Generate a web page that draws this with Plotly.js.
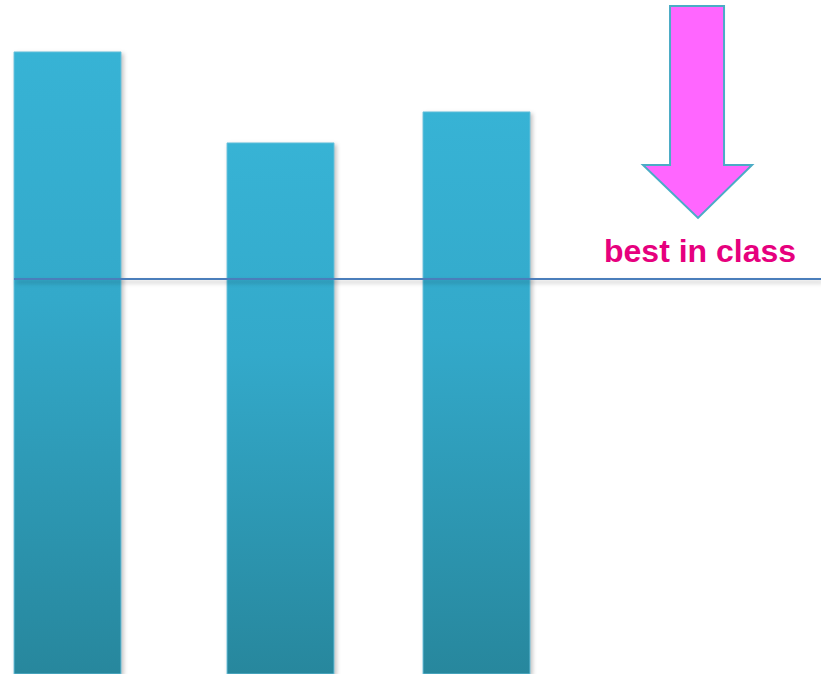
<!DOCTYPE html>
<html>
<head>
<meta charset="utf-8">
<script src="https://cdn.plot.ly/plotly-3.0.1.min.js"></script>
<style>html,body{margin:0;padding:0;background:#fff;}#chart{width:821px;height:674px;}</style>
</head>
<body>
<div id="chart"></div>
<script>
// Data
const categories = [0, 1, 2];
const values = [92.3, 78.8, 83.4];
const benchmark = 58.6;
const benchmarkLabel = "best in class";

// Layout helpers (pixel geometry of the reference)
const W = 821, H = 674;
const unit = 204.5;                  // px per category
const barWidth = 107 / unit;
const barOffsets = [-56 / unit, -47.5 / unit, -56 / unit];
const xr0 = -70 / unit;
const px = (x) => x / W;
const py = (y) => 1 - y / H;

const arrowPts = [[670,6],[724,6],[724,165],[752,165],[698,218],[643,165],[670,165]];
const arrowPath = 'M' + arrowPts.map(p => px(p[0]).toFixed(4) + ',' + py(p[1]).toFixed(4)).join(' L') + ' Z';

const trace = {
  type: 'bar',
  x: categories,
  y: values,
  width: barWidth,
  offset: barOffsets,
  marker: { color: '#31A3C1', line: { color: 'rgba(110,195,222,0.9)', width: 1 } },
  hoverinfo: 'skip'
};

const layout = {
  width: W, height: H,
  margin: { l: 0, r: 0, t: 0, b: 0, pad: 0 },
  paper_bgcolor: '#ffffff', plot_bgcolor: '#ffffff',
  showlegend: false,
  xaxis: { range: [xr0, xr0 + W / unit], visible: false, fixedrange: true },
  yaxis: { range: [0, 100], visible: false, fixedrange: true },
  shapes: [
    { type: 'line', xref: 'paper', yref: 'y', x0: 14 / W, x1: 1, y0: benchmark, y1: benchmark,
      line: { color: '#4A7EBB', width: 2 } },
    { type: 'path', xref: 'paper', yref: 'paper', path: arrowPath,
      fillcolor: '#FF66FF', line: { color: '#4BACC6', width: 2 } }
  ],
  annotations: [
    { xref: 'paper', yref: 'paper', x: px(700), y: py(251), text: benchmarkLabel, showarrow: false,
      xanchor: 'center', yanchor: 'middle',
      font: { family: 'Liberation Sans, Arial, sans-serif', size: 32, color: '#E6007E', weight: 700 } }
  ]
};

Plotly.newPlot('chart', [trace], layout, { staticPlot: true, displayModeBar: false }).then(function (gd) {
  const svg = gd.querySelector('svg.main-svg');
  const ns = 'http://www.w3.org/2000/svg';
  let defs = svg.querySelector('defs');
  if (!defs) { defs = document.createElementNS(ns, 'defs'); svg.insertBefore(defs, svg.firstChild); }
  const g = document.createElementNS(ns, 'linearGradient');
  g.setAttribute('id', 'barGrad');
  g.setAttribute('x1', '0'); g.setAttribute('y1', '0'); g.setAttribute('x2', '0'); g.setAttribute('y2', '1');
  [['0', '#37B3D5'], ['0.4', '#33A9CA'], ['1', '#27879D']].forEach(function (s) {
    const st = document.createElementNS(ns, 'stop');
    st.setAttribute('offset', s[0]); st.setAttribute('stop-color', s[1]);
    g.appendChild(st);
  });
  defs.appendChild(g);
  gd.querySelectorAll('.bars .point path').forEach(function (p) {
    p.style.fill = 'url(#barGrad)';
    p.style.filter = 'drop-shadow(2px 2px 2px rgba(0,0,0,0.25))';
  });
  const arrow = gd.querySelector('.layer-above .shapelayer path:last-child') || null;
  if (arrow) arrow.style.filter = 'drop-shadow(2px 3px 2px rgba(0,0,0,0.25))';
});
</script>
</body>
</html>
